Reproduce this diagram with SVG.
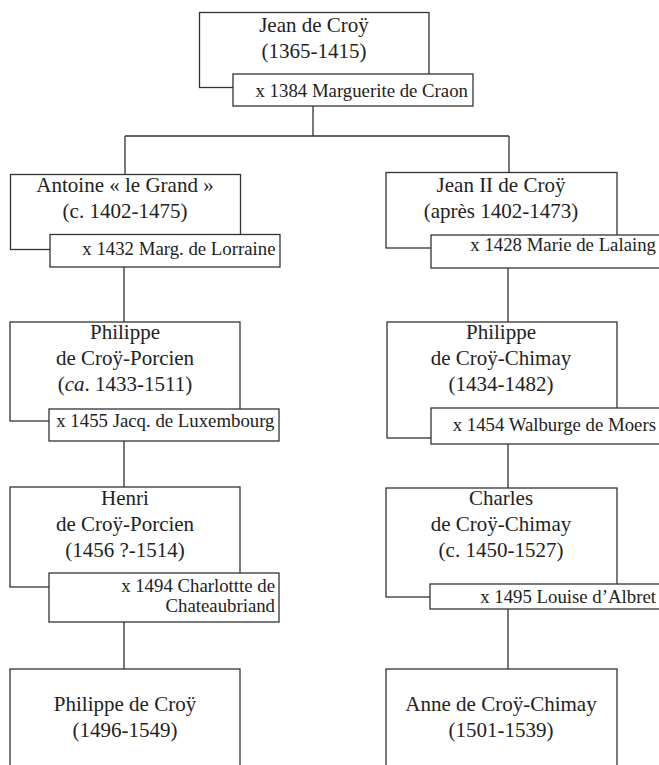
<svg xmlns="http://www.w3.org/2000/svg" width="659" height="765" viewBox="0 0 659 765">
<style>
.b{fill:#fff;stroke:#333;stroke-width:1.3}
.c{fill:none;stroke:#333;stroke-width:1.3}
.n{font-family:"Liberation Serif","Times New Roman",serif;font-size:21px;fill:#222;text-anchor:middle}
.s{font-family:"Liberation Serif","Times New Roman",serif;font-size:18.8px;fill:#222;text-anchor:end}
</style>
<rect width="659" height="765" fill="#fff"/>
<g id="connectors">
<path class="c" d="M313,106V136M125,136H509M125,136V175M509,136V173"/>
<path class="c" d="M124,267V322M124,441V487M124,622V669"/>
<path class="c" d="M508,268V322M508,444V488M508,609V669"/>
</g>
<g id="jean">
<rect class="b" x="199.5" y="12.5" width="229.5" height="75"/>
<rect class="b" x="233" y="74" width="240" height="32"/>
<text class="n" x="314" y="32">Jean de Croÿ</text>
<text class="n" x="314" y="58">(1365-1415)</text>
<text class="s" x="468" y="97">x 1384 Marguerite de Craon</text>
</g>
<g id="antoine">
<rect class="b" x="10.5" y="174.5" width="230" height="75"/>
<rect class="b" x="50" y="234.5" width="230" height="32.5"/>
<text class="n" x="125" y="192">Antoine « le Grand »</text>
<text class="n" x="125" y="218">(c. 1402-1475)</text>
<text class="s" x="275.5" y="255">x 1432 Marg. de Lorraine</text>
</g>
<g id="jean2">
<rect class="b" x="386" y="172.5" width="231" height="75.5"/>
<rect class="b" x="431" y="235" width="232" height="33"/>
<text class="n" x="501" y="192">Jean II de Croÿ</text>
<text class="n" x="501" y="218">(après 1402-1473)</text>
<text class="s" x="656" y="251">x 1428 Marie de Lalaing</text>
</g>
<g id="philippe-porcien">
<rect class="b" x="10" y="322" width="230" height="99"/>
<rect class="b" x="49" y="409" width="230" height="32"/>
<text class="n" x="125" y="339">Philippe</text>
<text class="n" x="125" y="365">de Croÿ-Porcien</text>
<text class="n" x="125" y="391">(<tspan font-style="italic">ca</tspan>. 1433-1511)</text>
<text class="s" x="274.5" y="427">x 1455 Jacq. de Luxembourg</text>
</g>
<g id="philippe-chimay">
<rect class="b" x="387" y="322" width="230" height="116"/>
<rect class="b" x="431" y="408" width="232" height="36"/>
<text class="n" x="501" y="339">Philippe</text>
<text class="n" x="501" y="365">de Croÿ-Chimay</text>
<text class="n" x="501" y="391">(1434-1482)</text>
<text class="s" x="656" y="431">x 1454 Walburge de Moers</text>
</g>
<g id="henri">
<rect class="b" x="10" y="487" width="230" height="100"/>
<rect class="b" x="49" y="573" width="230" height="49"/>
<text class="n" x="125" y="505">Henri</text>
<text class="n" x="125" y="531">de Croÿ-Porcien</text>
<text class="n" x="125" y="557">(1456 ?-1514)</text>
<text class="s" x="275" y="592">x 1494 Charlottte de</text>
<text class="s" x="275" y="612">Chateaubriand</text>
</g>
<g id="charles">
<rect class="b" x="386" y="488" width="231" height="109"/>
<rect class="b" x="430" y="584" width="233" height="25"/>
<text class="n" x="501" y="505">Charles</text>
<text class="n" x="501" y="531">de Croÿ-Chimay</text>
<text class="n" x="501" y="557">(c. 1450-1527)</text>
<text class="s" x="656" y="603">x 1495 Louise d’Albret</text>
</g>
<g id="philippe-croy">
<rect class="b" x="10" y="669" width="230" height="110"/>
<text class="n" x="125" y="711">Philippe de Croÿ</text>
<text class="n" x="125" y="737">(1496-1549)</text>
</g>
<g id="anne">
<rect class="b" x="386" y="669" width="231" height="110"/>
<text class="n" x="501" y="711">Anne de Croÿ-Chimay</text>
<text class="n" x="501" y="737">(1501-1539)</text>
</g>
</svg>
